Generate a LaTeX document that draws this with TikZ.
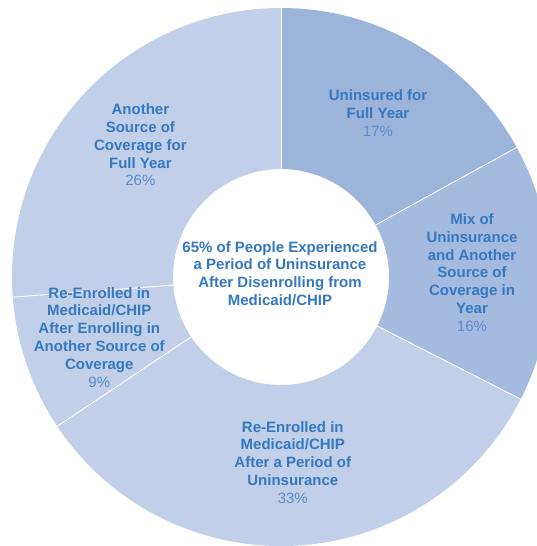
\documentclass[tikz,border=0pt]{standalone}
\usepackage{fontspec}
\setmainfont{Liberation Sans}
\usetikzlibrary{calc}
\definecolor{lightsl}{HTML}{C1D0E8}
\definecolor{darkone}{HTML}{9CB4DA}
\definecolor{darktwo}{HTML}{A5BADF}
\definecolor{lblc}{HTML}{3578C0}
\definecolor{pctc}{HTML}{5A8BC8}
\newcommand\donutsector[3]{\fill[#3] ($(c)+(#1:269)$) arc[start angle=#1,end angle=#2,radius=269] -- ($(c)+(#2:108)$) arc[start angle=#2,end angle=#1,radius=108] -- cycle;}
\newcommand\pct[1]{{\mdseries\color{pctc}#1}}
\begin{document}
\begin{tikzpicture}[x=1pt,y=1pt,
  lbl/.style={align=center, text=lblc, font=\bfseries\fontsize{15}{17.8}\selectfont, inner sep=0pt},
  divider/.style={white, line width=0.9pt}]
\useasboundingbox (0,-546) rectangle (537,0);
\clip (0,-546) rectangle (537,0);
\fill[white] (0,-546) rectangle (537,0);
\coordinate (c) at (281,-277);
\donutsector{28.8}{90}{darkone}
\donutsector{-27}{28.8}{darktwo}
\donutsector{-146.3}{-27}{lightsl}
\donutsector{-175.7}{-146.3}{lightsl}
\donutsector{90}{184.3}{lightsl}
\foreach \a in {90,28.8,-27,-146.3,-175.7}{
  \draw[divider] ($(c)+(\a:108)$) -- ($(c)+(\a:269)$);
}
\node[lbl] (u) at (378,-113.4) {Uninsured for\\Full Year\\\pct{17\%}};
\node[lbl] (m) at (472,-272.5) {Mix of\\Uninsurance\\and Another\\Source of\\Coverage in\\Year\\\pct{16\%}};
\node[lbl] (r33) at (292.8,-462.3) {Re-Enrolled in\\Medicaid/CHIP\\After a Period of\\Uninsurance\\\pct{33\%}};
\node[lbl] (r9) at (99.3,-337.3) {Re-Enrolled in\\Medicaid/CHIP\\After Enrolling in\\Another Source of\\Coverage\\\pct{9\%}};
\node[lbl] (a) at (140.4,-145) {Another\\Source of\\Coverage for\\Full Year\\\pct{26\%}};
\node[lbl] (ctr) at (280,-273.5) {65\% of People Experienced\\a Period of Uninsurance\\After Disenrolling from\\Medicaid/CHIP};
\end{tikzpicture}
\end{document}
